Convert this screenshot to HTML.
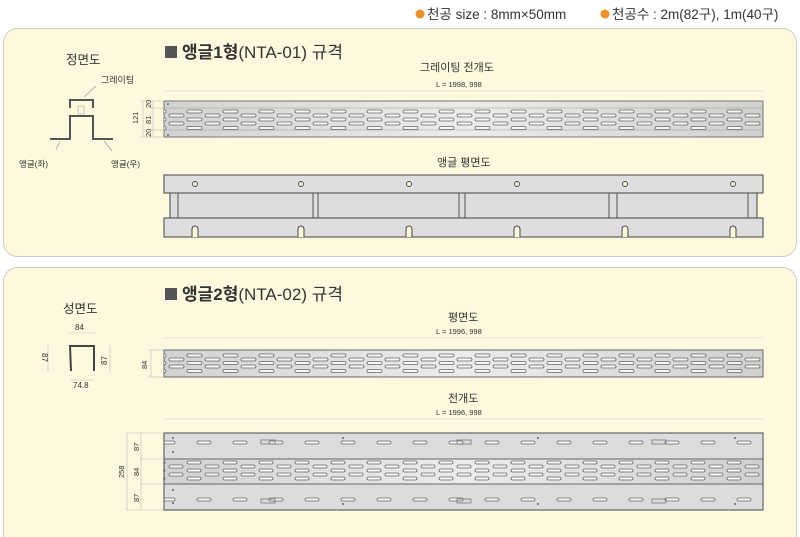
<!DOCTYPE html>
<html><head><meta charset="utf-8"><style>
body{margin:0;background:#fff;}
svg{display:block;font-family:"Liberation Sans","Noto Sans CJK KR",sans-serif;}
</style></head><body>
<svg width="800" height="537" viewBox="0 0 800 537" xmlns="http://www.w3.org/2000/svg">
<defs>
<pattern id="p1" x="168" y="0" width="36" height="137" patternUnits="userSpaceOnUse">
 <g fill="#f6f6f6" stroke="#666" stroke-width="0.8">
 <rect x="19" y="110" width="15" height="3" rx="1.5"/><rect x="1" y="114" width="15" height="3" rx="1.5"/>
 <rect x="19" y="118" width="15" height="3" rx="1.5"/><rect x="1" y="122" width="15" height="3" rx="1.5"/>
 <rect x="19" y="126.5" width="15" height="3" rx="1.5"/></g>
</pattern>
<pattern id="p2" x="168" y="0" width="36" height="400" patternUnits="userSpaceOnUse">
 <g fill="#f6f6f6" stroke="#666" stroke-width="0.8">
 <rect x="19" y="354" width="15" height="3" rx="1.5"/><rect x="1" y="358" width="15" height="3" rx="1.5"/>
 <rect x="19" y="361.5" width="15" height="3" rx="1.5"/><rect x="1" y="365" width="15" height="3" rx="1.5"/>
 <rect x="19" y="369.5" width="15" height="3" rx="1.5"/></g>
</pattern>
<pattern id="p3" x="168" y="0" width="36" height="500" patternUnits="userSpaceOnUse">
 <g fill="#f6f6f6" stroke="#666" stroke-width="0.8">
 <rect x="19" y="461" width="14" height="3" rx="1.5"/><rect x="1" y="465" width="14" height="3" rx="1.5"/>
 <rect x="19" y="469" width="14" height="3" rx="1.5"/><rect x="1" y="473" width="14" height="3" rx="1.5"/>
 <rect x="19" y="477" width="14" height="3" rx="1.5"/></g>
</pattern>
<pattern id="p4" x="196" y="0" width="36" height="520" patternUnits="userSpaceOnUse">
 <g fill="#f6f6f6" stroke="#666" stroke-width="0.8">
 <rect x="1" y="441" width="14" height="3" rx="1.5"/><rect x="1" y="498" width="14" height="3" rx="1.5"/></g>
</pattern>
<linearGradient id="g1" x1="0" y1="0" x2="1" y2="0">
 <stop offset="0" stop-color="#d2d2d4"/><stop offset=".5" stop-color="#ececee"/><stop offset="1" stop-color="#d0d0d2"/>
</linearGradient>
</defs>

<circle cx="420" cy="14" r="4.5" fill="#f0902a"/>
<text x="427" y="19" font-size="13.5" fill="#333">천공 size : 8mm×50mm</text>
<circle cx="605" cy="14" r="4.5" fill="#f0902a"/>
<text x="612" y="19" font-size="13.5" fill="#333">천공수 : 2m(82구), 1m(40구)</text>

<rect x="3.5" y="28.5" width="793" height="228" rx="14" fill="#fdf9de" stroke="#cfcfc8"/>
<rect x="3.5" y="267.5" width="793" height="280" rx="14" fill="#fdf9de" stroke="#cfcfc8"/>

<rect x="165" y="46" width="12" height="12" fill="#555"/>
<text x="182" y="58" font-size="17" fill="#333"><tspan font-weight="bold">앵글1형</tspan>(NTA-01) 규격</text>
<text x="66" y="64" font-size="12.5" fill="#333">정면도</text>
<text x="101" y="83" font-size="9" fill="#333">그레이팅</text>
<line x1="96" y1="86" x2="84" y2="97" stroke="#999" stroke-width="0.7"/>
<g fill="none" stroke="#555" stroke-width="2">
<path d="M50 139 H70 V116 H93 V139 H113"/>
<path d="M70 108 V100 H93 V108"/>
</g>
<rect x="78" y="106" width="6" height="8" fill="none" stroke="#bbb" stroke-width="0.8"/>
<line x1="56" y1="150" x2="60" y2="141" stroke="#999" stroke-width="0.7"/>
<line x1="112" y1="151" x2="104" y2="141" stroke="#999" stroke-width="0.7"/>
<text x="19" y="167" font-size="8.5" fill="#333">앵글(좌)</text>
<text x="111" y="167" font-size="8.5" fill="#333">앵글(우)</text>

<text x="420" y="71" font-size="11" fill="#333">그레이팅 전개도</text>
<text x="436" y="87" font-size="7.5" fill="#333">L = 1998, 998</text>
<line x1="164" y1="91" x2="763" y2="91" stroke="#ccc" stroke-width="0.6"/>
<rect x="164" y="101" width="599" height="36" fill="url(#g1)" stroke="#777"/>
<line x1="164" y1="108" x2="763" y2="108" stroke="#999" stroke-width="0.6"/>
<line x1="164" y1="130" x2="763" y2="130" stroke="#999" stroke-width="0.6"/>
<rect x="164" y="101" width="599" height="36" fill="url(#p1)"/>
<circle cx="168" cy="104" r="1" fill="#666"/><circle cx="168" cy="135" r="1" fill="#666"/>
<g stroke="#bbb" stroke-width="0.6"><line x1="140" y1="101" x2="164" y2="101"/><line x1="140" y1="137" x2="164" y2="137"/><line x1="150" y1="108" x2="164" y2="108"/><line x1="150" y1="130" x2="164" y2="130"/><line x1="143" y1="101" x2="143" y2="137"/><line x1="153" y1="101" x2="153" y2="137"/></g>
<g font-size="7.5" fill="#333">
<text transform="translate(138,124) rotate(-90)">121</text>
<text transform="translate(151,108) rotate(-90)">20</text>
<text transform="translate(151,124) rotate(-90)">81</text>
<text transform="translate(151,137) rotate(-90)">20</text>
</g>

<text x="437" y="166" font-size="11" fill="#333">앵글 평면도</text>
<rect x="170" y="193" width="587" height="25" fill="#dcdcde" stroke="#444"/>
<g stroke="#555" stroke-width="1"><line x1="178" y1="193" x2="178" y2="218"/>
<line x1="313" y1="193" x2="313" y2="218"/><line x1="318" y1="193" x2="318" y2="218"/>
<line x1="459" y1="193" x2="459" y2="218"/><line x1="465" y1="193" x2="465" y2="218"/>
<line x1="609" y1="193" x2="609" y2="218"/><line x1="617" y1="193" x2="617" y2="218"/>
<line x1="748" y1="193" x2="748" y2="218"/></g>
<rect x="164" y="175" width="599" height="18" fill="#dedee0" stroke="#444"/>
<path d="M164 218 H763 V237 H164 Z" fill="#dedee0" stroke="#444"/>
<g fill="#fdf9de" stroke="#444" stroke-width="0.9">
<circle cx="195" cy="184" r="2.5"/><circle cx="301" cy="184" r="2.5"/><circle cx="409" cy="184" r="2.5"/><circle cx="517" cy="184" r="2.5"/><circle cx="625" cy="184" r="2.5"/><circle cx="733" cy="184" r="2.5"/>
</g>
<g fill="#fdf9de" stroke="#444" stroke-width="1">
<path d="M192 237 V229 a3 3 0 0 1 6 0 V237"/><path d="M298 237 V229 a3 3 0 0 1 6 0 V237"/><path d="M406 237 V229 a3 3 0 0 1 6 0 V237"/><path d="M514 237 V229 a3 3 0 0 1 6 0 V237"/><path d="M622 237 V229 a3 3 0 0 1 6 0 V237"/><path d="M730 237 V229 a3 3 0 0 1 6 0 V237"/>
</g>

<rect x="165" y="288" width="12" height="12" fill="#555"/>
<text x="182" y="300" font-size="17" fill="#333"><tspan font-weight="bold">앵글2형</tspan>(NTA-02) 규격</text>
<text x="63" y="313" font-size="12.5" fill="#333">성면도</text>
<text x="75" y="330" font-size="8" fill="#333">84</text>
<text x="73" y="388" font-size="8" fill="#333">74.8</text>
<g stroke="#bbb" stroke-width="0.6"><line x1="68" y1="333" x2="95" y2="333"/><line x1="70" y1="380" x2="93" y2="380"/><line x1="48" y1="345" x2="48" y2="372"/><line x1="110" y1="345" x2="110" y2="372"/></g>
<g fill="none" stroke="#444" stroke-width="2"><path d="M71 371 L70 346 H94 V371"/></g>
<g font-size="8" fill="#333"><text transform="translate(42,353) rotate(90)">87</text><text transform="translate(107,365) rotate(-90)">87</text></g>

<text x="448" y="321" font-size="11" fill="#333">평면도</text>
<text x="436" y="334" font-size="7.5" fill="#333">L = 1996, 998</text>
<line x1="164" y1="338" x2="763" y2="338" stroke="#ccc" stroke-width="0.6"/>
<rect x="164" y="350" width="599" height="27" fill="url(#g1)" stroke="#666"/>
<rect x="164" y="350" width="599" height="27" fill="url(#p2)"/>
<g stroke="#bbb" stroke-width="0.6"><line x1="148" y1="350" x2="164" y2="350"/><line x1="148" y1="377" x2="164" y2="377"/><line x1="151" y1="350" x2="151" y2="377"/></g>
<text transform="translate(147,369) rotate(-90)" font-size="7.5" fill="#333">84</text>

<text x="448" y="402" font-size="11" fill="#333">전개도</text>
<text x="436" y="415" font-size="7.5" fill="#333">L = 1996, 998</text>
<line x1="164" y1="419" x2="763" y2="419" stroke="#ccc" stroke-width="0.6"/>
<rect x="164" y="433" width="599" height="77" fill="#dcdcde" stroke="#777"/>
<rect x="164" y="459" width="599" height="25" fill="url(#g1)"/>
<line x1="164" y1="459" x2="763" y2="459" stroke="#666"/>
<line x1="164" y1="484" x2="763" y2="484" stroke="#666"/>
<rect x="164" y="433" width="599" height="77" fill="url(#p3)"/>
<rect x="164" y="433" width="599" height="77" fill="url(#p4)"/>
<rect x="164" y="433" width="599" height="77" fill="none" stroke="#666" stroke-width="1.2"/>
<g fill="#666"><circle cx="173" cy="438" r="1"/><circle cx="173" cy="452" r="1"/><circle cx="173" cy="490" r="1"/><circle cx="173" cy="503" r="1"/>
<circle cx="343" cy="438" r="1"/><circle cx="343" cy="504" r="1"/><circle cx="538" cy="438" r="1"/><circle cx="538" cy="504" r="1"/><circle cx="735" cy="438" r="1"/><circle cx="735" cy="504" r="1"/></g>
<g fill="none" stroke="#777" stroke-width="0.8"><rect x="261" y="440" width="14" height="4"/><rect x="457" y="440" width="14" height="4"/><rect x="652" y="440" width="14" height="4"/><rect x="261" y="499" width="14" height="4"/><rect x="457" y="499" width="14" height="4"/><rect x="652" y="499" width="14" height="4"/></g>
<g stroke="#bbb" stroke-width="0.6"><line x1="126" y1="433" x2="164" y2="433"/><line x1="140" y1="459" x2="164" y2="459"/><line x1="140" y1="484" x2="164" y2="484"/><line x1="126" y1="510" x2="164" y2="510"/><line x1="127" y1="433" x2="127" y2="510"/><line x1="141" y1="433" x2="141" y2="510"/></g>
<g font-size="7.5" fill="#333">
<text transform="translate(124,478) rotate(-90)">258</text>
<text transform="translate(139,451) rotate(-90)">87</text>
<text transform="translate(139,476) rotate(-90)">84</text>
<text transform="translate(139,502) rotate(-90)">87</text>
</g>
</svg>
</body></html>
